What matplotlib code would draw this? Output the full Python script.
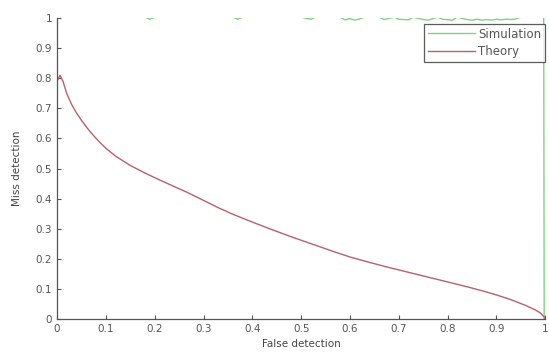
import matplotlib
matplotlib.use("Agg")
import matplotlib.pyplot as plt
import numpy as np

# Theory curve
theory_x = [0.0, 0.006, 0.012, 0.02, 0.03, 0.04, 0.05, 0.06, 0.07, 0.08, 0.09, 0.10,
            0.12, 0.15, 0.18, 0.21, 0.24, 0.27, 0.30, 0.33, 0.36, 0.40, 0.44, 0.48,
            0.51, 0.54, 0.57, 0.60, 0.64, 0.68, 0.72, 0.76, 0.80, 0.84, 0.87, 0.90,
            0.93, 0.96, 0.98, 0.99, 0.997, 1.0]
theory_y = [0.79, 0.81, 0.79, 0.748, 0.712, 0.684, 0.66, 0.638, 0.618, 0.60, 0.583, 0.567,
            0.541, 0.51, 0.485, 0.462, 0.44, 0.418, 0.394, 0.37, 0.348, 0.322, 0.297, 0.273,
            0.256, 0.239, 0.222, 0.206, 0.188, 0.171, 0.155, 0.139, 0.123, 0.107, 0.094, 0.080,
            0.064, 0.045, 0.030, 0.020, 0.008, 0.0]

# Simulation curve: stays at 1 with small dips, drops at the end
sim_x = [0.0, 0.18, 0.19, 0.20, 0.36, 0.37, 0.38, 0.50, 0.52, 0.53, 0.58, 0.59, 0.60,
         0.61, 0.62, 0.63, 0.66, 0.67, 0.69, 0.70, 0.72, 0.73, 0.75, 0.76, 0.78,
         0.79, 0.81, 0.82, 0.84, 0.85, 0.86, 0.87, 0.88, 0.89, 0.90, 0.91, 0.92,
         0.93, 0.94, 0.95, 0.997, 0.998, 1.0]
sim_y = [1.003, 1.003, 0.996, 1.003, 1.003, 0.996, 1.003, 1.003, 0.996, 1.003, 1.003,
         0.994, 0.998, 0.993, 0.997, 1.003, 1.003, 0.995, 1.003, 0.996, 0.994, 1.003,
         0.995, 0.993, 1.003, 0.996, 0.993, 1.003, 0.995, 0.993, 0.996, 0.993, 0.995,
         0.993, 0.996, 0.994, 0.996, 0.995, 0.997, 1.003, 1.003, 0.0, 0.0]

x_ticks = [0, 0.1, 0.2, 0.3, 0.4, 0.5, 0.6, 0.7, 0.8, 0.9, 1]
y_ticks = [0, 0.1, 0.2, 0.3, 0.4, 0.5, 0.6, 0.7, 0.8, 0.9, 1]
x_labels = ["0", "0.1", "0.2", "0.3", "0.4", "0.5", "0.6", "0.7", "0.8", "0.9", "1"]
y_labels = ["0", "0.1", "0.2", "0.3", "0.4", "0.5", "0.6", "0.7", "0.8", "0.9", "1"]

plt.rcParams['font.family'] = ['DejaVu Sans']
fig = plt.figure(figsize=(5.49, 3.54), dpi=100)
ax = fig.add_axes([0.104, 0.099, 0.889, 0.850])

ax.plot(sim_x, sim_y, color='#7fd47f', lw=1.0, label='Simulation')
ax.plot(theory_x, theory_y, color='#b8606e', lw=1.0, label='Theory')

ax.set_xlim(0, 1)
ax.set_ylim(0, 1)
ax.set_xticks(x_ticks)
ax.set_xticklabels(x_labels)
ax.set_yticks(y_ticks)
ax.set_yticklabels(y_labels)
ax.tick_params(direction='in', length=3, labelsize=7.5, colors='#555555', width=0.8)
ax.spines['top'].set_visible(False)
ax.spines['right'].set_visible(False)
for s in ['left', 'bottom']:
    ax.spines[s].set_color('#555555')
    ax.spines[s].set_linewidth(0.9)

ax.set_xlabel('False detection', fontsize=7.5, color='#444444', labelpad=4)
ax.set_ylabel('Miss detection', fontsize=7.5, color='#444444', labelpad=10)

leg = ax.legend(loc='upper right', bbox_to_anchor=(1.0, 0.98), fontsize=8.5, frameon=True,
                fancybox=False, handlelength=4.0, borderpad=0.3, labelspacing=0.4,
                handletextpad=0.3, borderaxespad=0)
leg.get_frame().set_edgecolor('#333333')
leg.get_frame().set_linewidth(0.9)
for t in leg.get_texts():
    t.set_color('#555555')

fig.savefig('out.png', dpi=100)
